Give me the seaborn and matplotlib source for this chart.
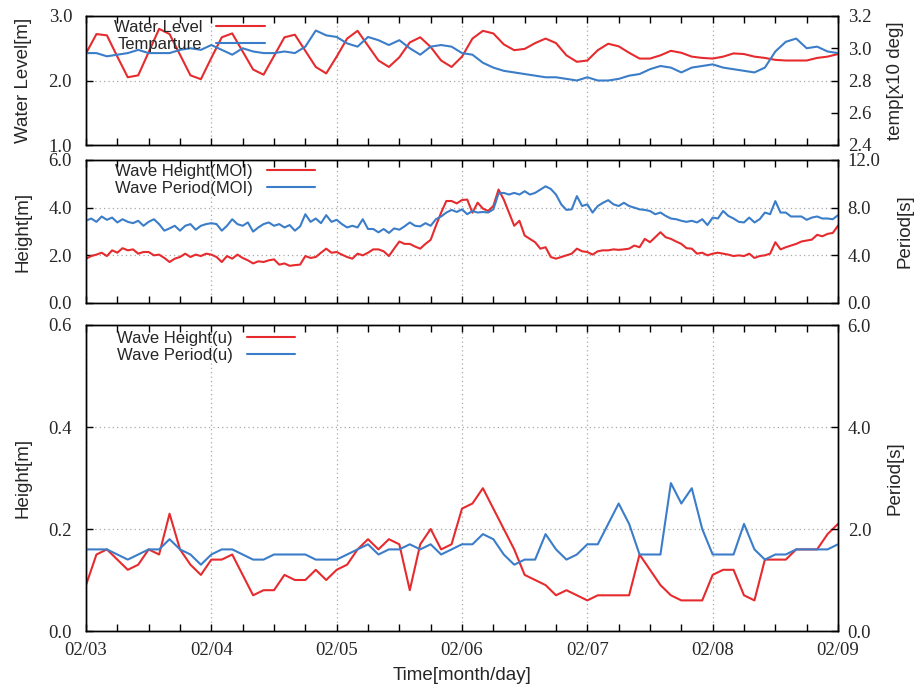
import matplotlib
matplotlib.use("Agg")
import matplotlib.pyplot as plt
import seaborn as sns
from matplotlib.ticker import FixedLocator, MultipleLocator, FormatStrFormatter

# ---------------- data ----------------
day_labels = ["02/03", "02/04", "02/05", "02/06", "02/07", "02/08", "02/09"]
day_hours = [0, 24, 48, 72, 96, 120, 144]

hours_2h = list(range(0, 145, 2))   # 2-hourly samples
hours_1h = list(range(0, 145))      # hourly samples

water_level = [2.42, 2.72, 2.70, 2.37, 2.05, 2.08, 2.44, 2.80, 2.72, 2.40,
               2.08, 2.02, 2.35, 2.67, 2.73, 2.45, 2.17, 2.09, 2.38, 2.67,
               2.71, 2.46, 2.21, 2.11, 2.37, 2.65, 2.77, 2.54, 2.31, 2.21,
               2.36, 2.59, 2.67, 2.52, 2.31, 2.21, 2.37,
               2.65, 2.77, 2.73, 2.56, 2.47, 2.49, 2.58, 2.65, 2.58, 2.39,
               2.29, 2.31, 2.47, 2.57, 2.53, 2.43, 2.34, 2.34, 2.39, 2.46,
               2.43, 2.37, 2.35, 2.34, 2.37, 2.42, 2.41, 2.37, 2.35, 2.32,
               2.31, 2.31, 2.31, 2.35, 2.37, 2.41]

temperature = [2.97, 2.97, 2.95, 2.96, 2.97, 2.99, 2.97, 2.97, 2.97, 2.99,
               3.00, 2.99, 3.02, 2.99, 2.96, 3.00, 2.98, 2.97, 2.97, 2.98,
               2.97, 3.01, 3.11, 3.08, 3.07, 3.03, 3.01, 3.07, 3.05, 3.02,
               3.05, 3.00, 2.96, 3.01, 3.02, 3.01, 2.97,
               2.96, 2.91, 2.88, 2.86, 2.85, 2.84, 2.83, 2.82, 2.82, 2.81,
               2.80, 2.82, 2.80, 2.80, 2.81, 2.83, 2.84, 2.87, 2.89, 2.88,
               2.85, 2.88, 2.89, 2.90, 2.88, 2.87, 2.86, 2.85, 2.88, 2.98,
               3.04, 3.06, 3.00, 3.01, 2.98, 2.97]

height_moi = [1.86, 1.97, 2.03, 2.11, 1.97, 2.21, 2.11, 2.30, 2.21, 2.25,
              2.07, 2.14, 2.14, 2.00, 2.03, 1.89, 1.72, 1.86, 1.93, 2.07,
              1.93, 2.03, 1.97, 2.07, 2.03, 1.93, 1.72, 1.97, 1.86, 2.03,
              1.89, 1.79, 1.66, 1.75, 1.72, 1.79, 1.83, 1.61, 1.66, 1.56,
              1.59, 1.61, 1.97, 1.89, 1.93, 2.11, 2.28, 2.11, 2.14, 2.03,
              1.93, 1.86, 2.07, 2.00, 2.11, 2.25, 2.25, 2.17, 1.97, 2.28,
              2.58, 2.48, 2.48, 2.37, 2.28, 2.48, 2.65, 3.24, 3.79, 4.28,
              4.28, 4.18, 4.32,
              4.34, 3.79, 4.21, 3.96, 3.86, 4.07, 4.76, 4.34, 3.79, 3.24,
              3.45, 2.83, 2.69, 2.55, 2.28, 2.34, 1.93, 1.86, 1.93, 2.00,
              2.07, 2.28, 2.17, 2.14, 2.03, 2.17, 2.21, 2.21, 2.25, 2.23,
              2.25, 2.28, 2.41, 2.34, 2.69, 2.55, 2.76, 2.97, 2.76, 2.69,
              2.58, 2.48, 2.30, 2.28, 2.07, 2.11, 2.00, 2.07, 2.11, 2.07,
              2.03, 1.97, 2.00, 1.97, 2.07, 1.89, 1.97, 2.00, 2.07, 2.55,
              2.25, 2.34, 2.41, 2.48, 2.58, 2.62, 2.66, 2.86, 2.80, 2.90,
              2.94, 3.24]

period_moi = [6.90, 7.09, 6.81, 7.26, 6.98, 7.17, 6.76, 7.03, 6.81, 6.70,
              6.90, 6.48, 6.81, 7.03, 6.62, 6.07, 6.26, 6.48, 6.07, 6.48,
              6.62, 6.15, 6.48, 6.62, 6.70, 6.62, 6.07, 6.48, 7.03, 6.62,
              6.48, 6.76, 5.99, 6.34, 6.62, 6.76, 6.48, 6.62, 6.34, 6.54,
              6.07, 6.43, 7.45, 6.81, 7.09, 6.70, 7.37, 6.81, 6.98, 6.62,
              6.34, 6.48, 6.34, 7.03, 6.21, 6.21, 5.93, 6.21, 5.88, 6.26,
              6.15, 6.43, 6.76, 6.48, 6.43, 6.70, 6.48, 7.03, 7.26, 7.59,
              7.81, 7.64, 7.86,
              7.45, 7.72, 7.59, 7.64, 7.59, 7.86, 9.19, 9.24, 9.10, 9.24,
              9.10, 9.38, 9.10, 9.24, 9.52, 9.79, 9.57, 9.10, 8.28, 7.81,
              7.86, 8.97, 8.14, 8.28, 7.59, 8.14, 8.41, 8.63, 8.28, 8.14,
              8.41, 8.14, 8.00, 7.86, 7.81, 7.72, 7.45, 7.59, 7.31, 7.09,
              7.03, 6.90, 6.81, 6.90, 6.76, 7.03, 6.54, 7.17, 7.09, 7.72,
              7.31, 7.09, 6.81, 6.76, 7.17, 6.76, 7.03, 7.59, 7.45, 8.55,
              7.59, 7.59, 7.26, 7.26, 7.26, 6.98, 7.17, 7.26, 7.09, 7.09,
              7.03, 7.37]

height_u = [0.09, 0.15, 0.16, 0.14, 0.12, 0.13, 0.16, 0.15, 0.23, 0.16,
            0.13, 0.11, 0.14, 0.14, 0.15, 0.11, 0.07, 0.08, 0.08, 0.11,
            0.10, 0.10, 0.12, 0.10, 0.12, 0.13, 0.16, 0.18, 0.16, 0.18,
            0.17, 0.08, 0.17, 0.20, 0.16, 0.17, 0.24, 0.25, 0.28, 0.24,
            0.20, 0.16, 0.11, 0.10, 0.09, 0.07, 0.08, 0.07, 0.06, 0.07,
            0.07, 0.07, 0.07, 0.15, 0.12, 0.09, 0.07, 0.06, 0.06, 0.06,
            0.11, 0.12, 0.12, 0.07, 0.06, 0.14, 0.14, 0.14, 0.16, 0.16,
            0.16, 0.19, 0.21]

period_u = [1.6, 1.6, 1.6, 1.5, 1.4, 1.5, 1.6, 1.6, 1.8, 1.6,
            1.5, 1.3, 1.5, 1.6, 1.6, 1.5, 1.4, 1.4, 1.5, 1.5,
            1.5, 1.5, 1.4, 1.4, 1.4, 1.5, 1.6, 1.7, 1.5, 1.6,
            1.6, 1.7, 1.6, 1.7, 1.5, 1.6, 1.7, 1.7, 1.9, 1.8,
            1.5, 1.3, 1.4, 1.4, 1.9, 1.6, 1.4, 1.5, 1.7, 1.7,
            2.1, 2.5, 2.1, 1.5, 1.5, 1.5, 2.9, 2.5, 2.8, 2.0,
            1.5, 1.5, 1.5, 2.1, 1.6, 1.4, 1.5, 1.5, 1.6, 1.6,
            1.6, 1.6, 1.7]

# ---------------- style ----------------
sns.set_theme(style="white")
plt.rcParams["font.family"] = ["Liberation Sans", "DejaVu Sans"]
plt.rcParams["axes.edgecolor"] = "black"
plt.rcParams["axes.linewidth"] = 1.0

RED = "#e62b2e"
BLUE = "#3b7dc8"
LW = 1.5
TICKFONT = "Liberation Serif"
TICKSIZE = 13.5
LABSIZE = 13.5
LEGSIZE = 12

fig = plt.figure(figsize=(9.16, 6.85), dpi=100)
FW, FH = 916, 685
LEFT, RIGHT = 86, 838


def make_axes(top_px, bot_px):
    return fig.add_axes([LEFT / FW, 1 - bot_px / FH, (RIGHT - LEFT) / FW,
                         (bot_px - top_px) / FH])


def panel(ax, x_l, y_l, x_r, y_r, names, lim_l, lim_r, step_l, step_r,
          lab_l, lab_r, leg_xy, lab_r_x, show_x):
    sns.lineplot(x=x_l, y=y_l, ax=ax, color=RED, lw=LW, legend=False)
    axr = ax.twinx()
    sns.lineplot(x=x_r, y=y_r, ax=axr, color=BLUE, lw=LW, legend=False)

    ax.set_xlim(0, 144)
    ax.set_ylim(*lim_l)
    axr.set_ylim(*lim_r)
    ax.xaxis.set_major_locator(FixedLocator(day_hours))
    ax.xaxis.set_minor_locator(MultipleLocator(6))
    if show_x:
        ax.set_xticklabels(day_labels)
    else:
        ax.set_xticklabels([])
    ax.yaxis.set_major_locator(MultipleLocator(step_l))
    axr.yaxis.set_major_locator(MultipleLocator(step_r))
    ax.yaxis.set_major_formatter(FormatStrFormatter("%.1f"))
    axr.yaxis.set_major_formatter(FormatStrFormatter("%.1f"))

    ax.tick_params(axis="x", which="both", direction="in", top=True,
                   bottom=True, length=5, width=1, color="black",
                   labelsize=TICKSIZE, labelfontfamily=TICKFONT, pad=8)
    ax.tick_params(axis="y", which="both", direction="in", left=True,
                   right=False, length=5, width=1, color="black",
                   labelsize=TICKSIZE, labelfontfamily=TICKFONT, pad=10)
    axr.tick_params(axis="y", which="both", direction="in", right=True,
                    left=False, length=5, width=1, color="black",
                    labelsize=TICKSIZE, labelfontfamily=TICKFONT, pad=7)

    ax.grid(True, which="major", axis="both", color="#a8a8a8",
            linestyle=(0, (1, 2.5)), lw=0.9)
    axr.grid(False)

    ax.set_xlabel("")
    ax.set_ylabel(lab_l, fontsize=LABSIZE)
    axr.set_ylabel(lab_r, fontsize=LABSIZE)
    ax.yaxis.set_label_coords(-0.072, 0.5)
    axr.yaxis.set_label_coords(lab_r_x, 0.5)

    handles = [ax.lines[0], axr.lines[0]]
    axr.legend(handles, names, loc="upper left", bbox_to_anchor=leg_xy,
               frameon=False, markerfirst=False, handlelength=2.9,
               handletextpad=0.85, labelspacing=0.1, borderpad=0,
               borderaxespad=0, fontsize=LEGSIZE)
    for s in ax.spines.values():
        s.set_color("black")
    return axr


ax1 = make_axes(16, 145)
panel(ax1, hours_2h, water_level, hours_2h, temperature,
      ["Water Level", "Temparture"], (1.0, 3.0), (2.4, 3.2), 1.0, 0.2,
      "Water Level[m]", "temp[x10 deg]", (0.037, 0.97), 1.065, False)

ax2 = make_axes(160, 303)
panel(ax2, hours_1h, height_moi, hours_1h, period_moi,
      ["Wave Height(MOI)", "Wave Period(MOI)"], (0.0, 6.0), (0.0, 12.0),
      2.0, 4.0, "Height[m]", "Period[s]", (0.0386, 0.972), 1.078, False)

ax3 = make_axes(325, 631)
panel(ax3, hours_2h, height_u, hours_2h, period_u,
      ["Wave Height(u)", "Wave Period(u)"], (0.0, 0.6), (0.0, 6.0),
      0.2, 2.0, "Height[m]", "Period[s]", (0.041, 0.98), 1.065, True)
ax3.set_xlabel("Time[month/day]", fontsize=LABSIZE, labelpad=6)

fig.savefig("out.png", dpi=100)
